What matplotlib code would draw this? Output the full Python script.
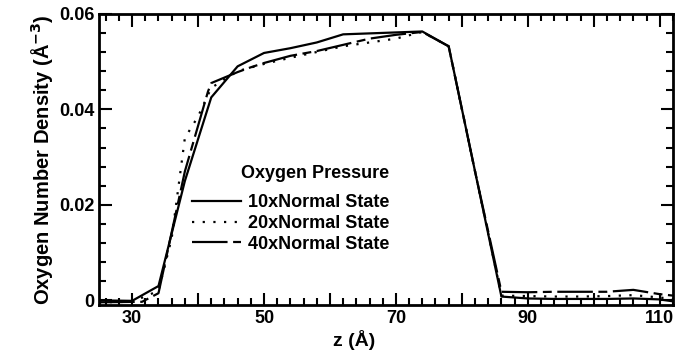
import numpy as np
import matplotlib
matplotlib.use('Agg')
import matplotlib.pyplot as plt
from matplotlib.ticker import MultipleLocator, FuncFormatter

plt.rcParams['font.family'] = ['Liberation Sans', 'DejaVu Sans']
plt.rcParams['font.weight'] = 'bold'
plt.rcParams['mathtext.default'] = 'bf'

# Data
z_10 = [25, 30, 34, 38, 42, 46, 50, 54, 58, 62, 66, 70, 74, 78, 82, 86, 90, 94, 98, 102, 106, 110, 112]
rho_10 = [0.0, -0.0001, 0.003, 0.025, 0.0425, 0.049, 0.0518, 0.0528, 0.054, 0.0557, 0.0559, 0.0561, 0.0563,
          0.0532, 0.027, 0.0008, 0.0004, 0.0003, 0.0003, 0.0003, 0.0004, 0.0002, -0.0002]

z_20 = [25, 30, 34, 36, 38, 40, 42, 46, 50, 54, 58, 62, 66, 70, 72, 74, 78, 82, 86, 90, 94, 98, 102, 106, 110, 112]
rho_20 = [-0.0004, -0.0003, 0.002, 0.013, 0.034, 0.0385, 0.0445, 0.048, 0.0495, 0.0508, 0.052, 0.0532, 0.054,
          0.0548, 0.0555, 0.0562, 0.0532, 0.027, 0.001, 0.0009, 0.0008, 0.0008, 0.0009, 0.0011, 0.0006, 0.0003]

z_40 = [25, 31.5, 34, 38, 41.5, 42, 46, 48, 50, 54, 58, 62, 66, 70, 74, 78, 82, 86, 90, 94, 98, 102, 106, 110, 112]
rho_40 = [-0.0004, -0.0003, 0.0015, 0.027, 0.0437, 0.0455, 0.0478, 0.0488, 0.0497, 0.0512, 0.0522, 0.0535,
          0.0548, 0.0556, 0.0562, 0.0532, 0.027, 0.0018, 0.0017, 0.0018, 0.0018, 0.0018, 0.0022, 0.0013, 0.001]

labels = ['10xNormal State', '20xNormal State', '40xNormal State']

fig = plt.figure(figsize=(6.79, 3.54), dpi=100)
ax = fig.add_axes([0.146, 0.138, 0.845, 0.823])

ax.plot(z_10, rho_10, color='black', lw=1.6, linestyle='-', label=labels[0])
ax.plot(z_20, rho_20, color='black', lw=1.6, linestyle=(0, (1, 3.8)), label=labels[1])
ax.plot(z_40, rho_40, color='black', lw=1.6, linestyle=(0, (16, 2.5, 4, 2.5)), label=labels[2])

ax.set_xlim(25, 112)
ax.set_ylim(-0.001, 0.06)

ax.xaxis.set_major_locator(MultipleLocator(10))
ax.xaxis.set_minor_locator(MultipleLocator(2))
ax.yaxis.set_major_locator(MultipleLocator(0.02))
ax.yaxis.set_minor_locator(MultipleLocator(0.004))
ax.xaxis.set_major_formatter(FuncFormatter(lambda v, p: '%d' % v if int(round(v)) % 20 == 10 else ''))
ax.yaxis.set_major_formatter(FuncFormatter(lambda v, p: '0' if abs(v) < 1e-9 else '%.2f' % v))

ax.tick_params(which='both', direction='in', top=True, right=True, labelsize=13, width=1.5)
ax.tick_params(which='major', length=9)
ax.tick_params(which='minor', length=5)
for s in ax.spines.values():
    s.set_linewidth(2)

ax.set_xlabel('z (Å)', fontsize=14, fontweight='bold')
ax.xaxis.set_label_coords(0.444, -0.085)
ax.set_ylabel('Oxygen Number Density (Å$^{-3}$)', fontsize=14.5, fontweight='bold', labelpad=3)

leg = ax.legend(title='Oxygen Pressure', loc='center', bbox_to_anchor=(0.428, 0.41),
                bbox_transform=fig.transFigure, frameon=False, fontsize=13,
                title_fontproperties={'size': 13, 'weight': 'bold'},
                handlelength=2.7, labelspacing=0.2, handletextpad=0.4, alignment='right')
leg._legend_box.sep = 9

plt.savefig('out.png', dpi=100)
